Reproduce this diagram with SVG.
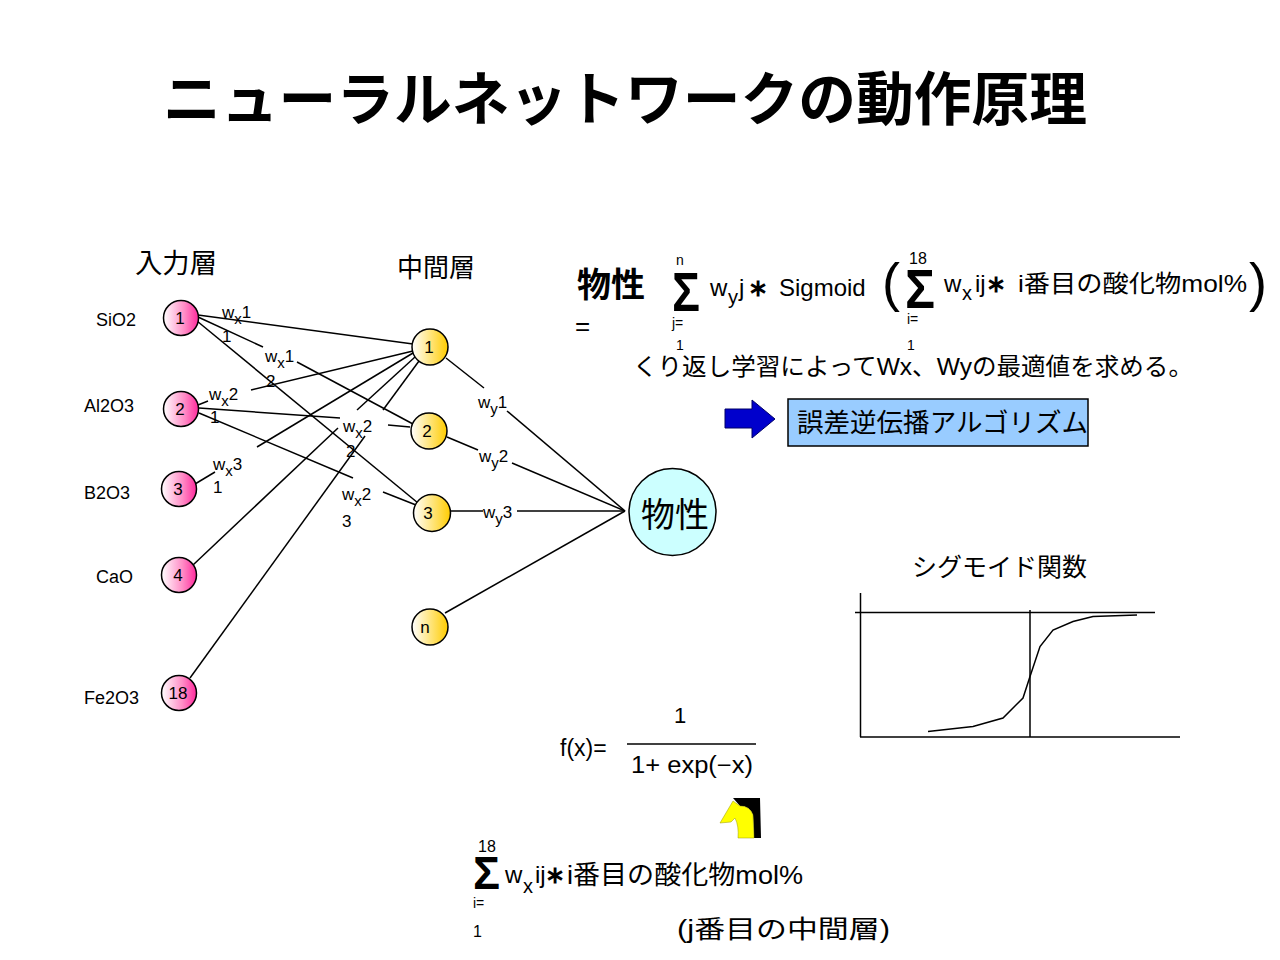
<svg xmlns="http://www.w3.org/2000/svg" width="1280" height="960" viewBox="0 0 1280 960">
<defs>
<linearGradient id="pink" x1="0" y1="0" x2="1" y2="0">
<stop offset="0" stop-color="#ffffff"/>
<stop offset="0.6" stop-color="#ff8cc6"/>
<stop offset="1" stop-color="#ff2a9d"/>
</linearGradient>
<linearGradient id="yel" x1="0" y1="0" x2="1" y2="0">
<stop offset="0" stop-color="#ffffff"/>
<stop offset="1" stop-color="#ffcc00"/>
</linearGradient>
<style>
text { font-family: "Liberation Sans", "Noto Sans CJK JP", sans-serif; fill: #000; }
.j { font-family: "Noto Sans CJK JP", sans-serif; }
.ln { stroke: #000; stroke-width: 1.5; fill: none; }
.in { fill: url(#pink); stroke: #000; stroke-width: 1.5; }
.mid { fill: url(#yel); stroke: #000; stroke-width: 1.5; }
.num { font-size: 17px; text-anchor: middle; }
.lab { font-size: 18px; }
.wl { font-size: 17px; }
.sub { font-size: 15px; }
.sig { font-weight: bold; }
.small { font-size: 14px; }
</style>
</defs>
<rect width="1280" height="960" fill="#ffffff"/>

<g id="title">
<text class="j" x="163" y="120" font-size="58" font-weight="bold" textLength="924" lengthAdjust="spacingAndGlyphs">ニューラルネットワークの動作原理</text>
</g>

<g id="layer-labels">
<text class="j" x="135" y="273" font-size="27" textLength="82" lengthAdjust="spacingAndGlyphs">入力層</text>
<text class="j" x="397" y="277" font-size="26" textLength="78" lengthAdjust="spacingAndGlyphs">中間層</text>
</g>

<g id="connectors">
<line class="ln" x1="198" y1="315" x2="413" y2="344"/>
<line class="ln" x1="198" y1="317" x2="263" y2="347"/>
<line class="ln" x1="297" y1="362" x2="413" y2="424"/>
<line class="ln" x1="197" y1="321" x2="418" y2="503"/>
<line class="ln" x1="198" y1="405" x2="208" y2="401"/>
<line class="ln" x1="251" y1="390" x2="413" y2="351"/>
<line class="ln" x1="199" y1="408" x2="340" y2="418"/>
<line class="ln" x1="388" y1="425" x2="410" y2="427"/>
<line class="ln" x1="199" y1="413" x2="353" y2="478"/>
<line class="ln" x1="383" y1="492" x2="416" y2="505"/>
<line class="ln" x1="195" y1="484" x2="215" y2="472"/>
<line class="ln" x1="257" y1="447" x2="413" y2="353"/>
<line class="ln" x1="193" y1="565" x2="338" y2="428"/>
<line class="ln" x1="357" y1="410" x2="415" y2="357"/>
<line class="ln" x1="190" y1="678" x2="365" y2="436"/>
<line class="ln" x1="383" y1="410" x2="419" y2="361"/>
<line class="ln" x1="446" y1="358" x2="484" y2="388"/>
<line class="ln" x1="507" y1="411" x2="625" y2="511"/>
<line class="ln" x1="447" y1="437" x2="478" y2="450"/>
<line class="ln" x1="512" y1="463" x2="625" y2="511"/>
<line class="ln" x1="450" y1="511" x2="483" y2="511"/>
<line class="ln" x1="517" y1="511" x2="625" y2="511"/>
<line class="ln" x1="445" y1="613" x2="625" y2="511"/>
</g>

<g id="weight-labels">
<text class="wl" x="222" y="318">w<tspan class="sub" dy="6">x</tspan><tspan dy="-6">1</tspan></text>
<text class="wl" x="222" y="342">1</text>
<text class="wl" x="265" y="362">w<tspan class="sub" dy="6">x</tspan><tspan dy="-6">1</tspan></text>
<text class="wl" x="266" y="387">2</text>
<text class="wl" x="209" y="400">w<tspan class="sub" dy="6">x</tspan><tspan dy="-6">2</tspan></text>
<text class="wl" x="210" y="423">1</text>
<text class="wl" x="213" y="470">w<tspan class="sub" dy="6">x</tspan><tspan dy="-6">3</tspan></text>
<text class="wl" x="213" y="493">1</text>
<text class="wl" x="343" y="432">w<tspan class="sub" dy="6">x</tspan><tspan dy="-6">2</tspan></text>
<text class="wl" x="346" y="457">2</text>
<text class="wl" x="342" y="500">w<tspan class="sub" dy="6">x</tspan><tspan dy="-6">2</tspan></text>
<text class="wl" x="342" y="527">3</text>
<text class="wl" x="478" y="408">w<tspan class="sub" dy="6">y</tspan><tspan dy="-6">1</tspan></text>
<text class="wl" x="479" y="462">w<tspan class="sub" dy="6">y</tspan><tspan dy="-6">2</tspan></text>
<text class="wl" x="483" y="518">w<tspan class="sub" dy="6">y</tspan><tspan dy="-6">3</tspan></text>
</g>

<g id="in1"><text class="lab" x="96" y="326">SiO2</text><circle class="in" cx="181" cy="318" r="17.5"/><text class="num" x="180" y="324">1</text></g>
<g id="in2"><text class="lab" x="84" y="412">Al2O3</text><circle class="in" cx="181" cy="409" r="17.5"/><text class="num" x="180" y="415">2</text></g>
<g id="in3"><text class="lab" x="84" y="499">B2O3</text><circle class="in" cx="179" cy="489" r="17.5"/><text class="num" x="178" y="495">3</text></g>
<g id="in4"><text class="lab" x="96" y="583">CaO</text><circle class="in" cx="179" cy="575" r="17.5"/><text class="num" x="178" y="581">4</text></g>
<g id="in18"><text class="lab" x="84" y="704">Fe2O3</text><circle class="in" cx="179" cy="693" r="17.5"/><text class="num" x="178" y="699">18</text></g>

<g id="mid1"><circle class="mid" cx="430" cy="347" r="18"/><text class="num" x="429" y="353">1</text></g>
<g id="mid2"><circle class="mid" cx="429" cy="431" r="18"/><text class="num" x="427" y="437">2</text></g>
<g id="mid3"><circle class="mid" cx="432" cy="513" r="18.5"/><text class="num" x="428" y="519">3</text></g>
<g id="midn"><circle class="mid" cx="430" cy="627" r="18"/><text class="num" x="425" y="633" font-size="16">n</text></g>

<g id="output"><circle cx="672.5" cy="512" r="43.5" fill="#ccffff" stroke="#000" stroke-width="1.5"/><text class="j" x="641" y="527" font-size="34" textLength="68" lengthAdjust="spacingAndGlyphs">物性</text></g>

<g id="formula-top">
<text class="j" x="577" y="297" font-size="34" font-weight="bold" textLength="68" lengthAdjust="spacingAndGlyphs">物性</text>
<text x="575" y="335" font-size="26">=</text>
<text class="sig" x="672" y="311" font-size="56" textLength="28" lengthAdjust="spacingAndGlyphs">Σ</text>
<text class="small" x="676" y="265">n</text>
<text class="small" x="672" y="328">j=</text>
<text class="small" x="676" y="350">1</text>
<text x="710" y="296" font-size="24">w</text>
<text x="728" y="304" font-size="20">y</text>
<text x="739" y="296" font-size="24">j</text>
<text x="758" y="296" font-size="24" font-weight="bold" text-anchor="middle">∗</text>
<text x="779" y="296" font-size="24">Sigmoid</text>
<text x="882" y="301" font-size="54">(</text>
<text class="sig" x="905" y="308" font-size="56" textLength="30" lengthAdjust="spacingAndGlyphs">Σ</text>
<text x="909" y="264" font-size="16">18</text>
<text class="small" x="907" y="324">i=</text>
<text class="small" x="907" y="350">1</text>
<text x="944" y="292" font-size="24">w</text>
<text x="962" y="300" font-size="20">x</text>
<text x="975" y="292" font-size="24">ij</text>
<text x="996" y="292" font-size="24" font-weight="bold" text-anchor="middle">∗</text>
<text x="1018" y="292" font-size="24" textLength="229" lengthAdjust="spacingAndGlyphs">i番目の酸化物mol%</text>
<text x="1249" y="301" font-size="54">)</text>
</g>

<g id="learning">
<text x="633" y="375" font-size="24" textLength="560" lengthAdjust="spacingAndGlyphs">くり返し学習によってWx、Wyの最適値を求める。</text>
</g>

<g id="backprop">
<polygon points="725,409 752,409 752,400 775,419 752,438 752,428 725,428" fill="#0000cc" stroke="#000066" stroke-width="1"/>
<rect x="788" y="399" width="300" height="47" fill="#99ccff" stroke="#000" stroke-width="1.5"/>
<text class="j" x="797" y="432" font-size="26" textLength="291" lengthAdjust="spacingAndGlyphs">誤差逆伝播アルゴリズム</text>
</g>

<g id="sigmoid-graph">
<text class="j" x="912" y="576" font-size="25" textLength="175" lengthAdjust="spacingAndGlyphs">シグモイド関数</text>
<line class="ln" x1="860.5" y1="593" x2="860.5" y2="737"/>
<line class="ln" x1="860" y1="737" x2="1180" y2="737"/>
<line class="ln" x1="855" y1="612.5" x2="1155" y2="612.5"/>
<line class="ln" x1="1030" y1="610" x2="1030" y2="737"/>
<polyline class="ln" points="928,731.5 973,726.5 1003,718 1023,698 1030,676.5 1040,646.5 1053,630 1073,621.5 1093,616.5 1137,615"/>
</g>

<g id="fx">
<text x="560" y="756" font-size="23">f(x)=</text>
<text x="674" y="723" font-size="22">1</text>
<line class="ln" x1="627" y1="744" x2="756" y2="744"/>
<text x="631" y="773" font-size="23" textLength="122" lengthAdjust="spacingAndGlyphs">1+ exp(−x)</text>
</g>

<g id="yellow-arrow">
<path d="M733,798 L760,798 L761,838 L754,838 L753,815 Q750,806 740,806 Z" fill="#000"/>
<path d="M720,823 L733,801 L740,806 Q750,806 753,815 L754,838 L738,838 Q739,826 735,818 L731,822 Z" fill="#ffff00" stroke="#999900" stroke-width="0.5"/>
</g>

<g id="formula-bottom">
<text class="sig" x="473" y="889" font-size="46" textLength="27" lengthAdjust="spacingAndGlyphs">Σ</text>
<text x="478" y="852" font-size="16">18</text>
<text class="small" x="473" y="908">i=</text>
<text x="473" y="937" font-size="16">1</text>
<text x="505" y="883" font-size="24">w</text>
<text x="523" y="893" font-size="20">x</text>
<text x="535" y="883" font-size="24">ij</text>
<text x="555" y="883" font-size="24" font-weight="bold" text-anchor="middle">∗</text>
<text x="567" y="884" font-size="26" textLength="236" lengthAdjust="spacingAndGlyphs">i番目の酸化物mol%</text>
<text x="677" y="938" font-size="25" textLength="213" lengthAdjust="spacingAndGlyphs">(j番目の中間層)</text>
</g>
</svg>
